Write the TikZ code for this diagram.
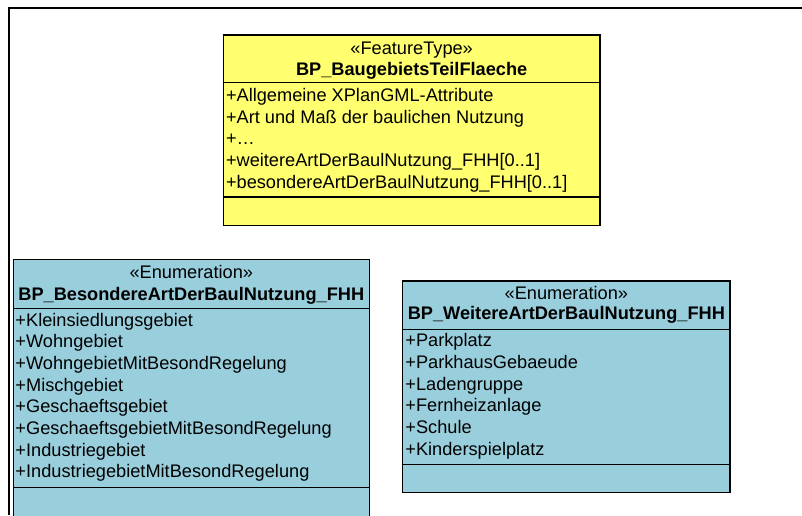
\documentclass[tikz,border=0pt]{standalone}
\usepackage{fontspec}
\setmainfont{Liberation Sans}
\usetikzlibrary{positioning}
\definecolor{ftgelb}{RGB}{255,255,112}
\definecolor{enumblau}{RGB}{153,206,220}

\begin{document}
\begin{tikzpicture}[x=1pt,y=-1pt,
    font=\fontsize{18.2}{21.7}\selectfont,
    fach/.style={draw,line width=1.2pt,outer sep=0pt,inner sep=0pt,anchor=north},
    kopf/.style={anchor=base,inner sep=0pt},
    zeile/.style={anchor=base west,inner sep=0pt}]
  \useasboundingbox (0,0) rectangle (802,515);
  % Rahmen
  \draw [line width=2pt] (9,515) -- (9,8) -- (802,8);

  % FeatureType
  \node [fach, fill=ftgelb, minimum width=376.7, minimum height=47.3, anchor=north west] (feat-kopf) at (223.3,35) {};
  \node [fach, fill=ftgelb, minimum width=376.7, minimum height=114.7, below=0pt of feat-kopf] (feat-attr) {};
  \node [fach, fill=ftgelb, minimum width=376.7, minimum height=28.7, below=0pt of feat-attr] (feat-ops) {};
  \node [kopf] (feat-st) at ([yshift=-19.5pt]feat-kopf.north) {«FeatureType»};
  \node [kopf] (feat-name) at ([yshift=-40.5pt]feat-kopf.north) {\bfseries BP\_BaugebietsTeilFlaeche};
  \foreach \eintrag [count=\i] in {{+Allgemeine XPlanGML-Attribute},
      {+Art und Maß der baulichen Nutzung}, {+…},
      {+weitereArtDerBaulNutzung\_FHH[0..1]},
      {+besondereArtDerBaulNutzung\_FHH[0..1]}}
    \node [zeile] (feat-a\i) at ([xshift=2.5pt,yshift={-19.2pt-(\i-1)*21.7pt}]feat-attr.north west) {\eintrag};

  % Enumeration links
  \node [fach, fill=enumblau, minimum width=356, minimum height=49, anchor=north west] (bes-kopf) at (13.3,259.3) {};
  \node [fach, fill=enumblau, minimum width=356, minimum height=179, below=0pt of bes-kopf] (bes-attr) {};
  \node [fach, fill=enumblau, minimum width=356, minimum height=35, below=0pt of bes-attr] (bes-ops) {};
  \node [kopf] (bes-st) at ([yshift=-19.5pt]bes-kopf.north) {«Enumeration»};
  \node [kopf] (bes-name) at ([yshift=-41.5pt]bes-kopf.north) {\bfseries BP\_BesondereArtDerBaulNutzung\_FHH};
  \foreach \eintrag [count=\i] in {Kleinsiedlungsgebiet, Wohngebiet,
      WohngebietMitBesondRegelung, Mischgebiet, Geschaeftsgebiet,
      GeschaeftsgebietMitBesondRegelung, Industriegebiet,
      IndustriegebietMitBesondRegelung}
    \node [zeile] (bes-a\i) at ([xshift=2pt,yshift={-17.7pt-(\i-1)*21.7pt}]bes-attr.north west) {+\eintrag};

  % Enumeration rechts
  \node [fach, fill=enumblau, minimum width=327.3, minimum height=48.3, anchor=north west] (wei-kopf) at (402.7,281) {};
  \node [fach, fill=enumblau, minimum width=327.3, minimum height=135, below=0pt of wei-kopf] (wei-attr) {};
  \node [fach, fill=enumblau, minimum width=327.3, minimum height=28.4, below=0pt of wei-attr] (wei-ops) {};
  \node [kopf] (wei-st) at ([yshift=-18.8pt]wei-kopf.north) {«Enumeration»};
  \node [kopf] (wei-name) at ([yshift=-38.8pt]wei-kopf.north) {\bfseries BP\_WeitereArtDerBaulNutzung\_FHH};
  \foreach \eintrag [count=\i] in {Parkplatz, ParkhausGebaeude, Ladengruppe,
      Fernheizanlage, Schule, Kinderspielplatz}
    \node [zeile] (wei-a\i) at ([xshift=2.5pt,yshift={-17.4pt-(\i-1)*21.7pt}]wei-attr.north west) {+\eintrag};
\end{tikzpicture}
\end{document}
